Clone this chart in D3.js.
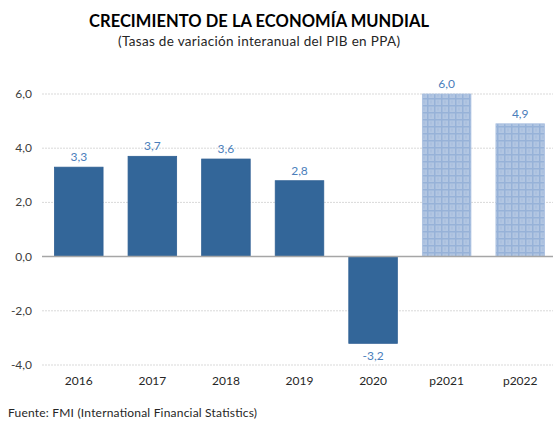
<!DOCTYPE html>
<html>
<head>
<meta charset="utf-8">
<script src="https://cdn.jsdelivr.net/npm/d3@7"></script>
<style>
  body { margin: 0; background: #fff; }
  text { font-family: Lato, "Open Sans", sans-serif; }
</style>
</head>
<body>
<div id="chart"></div>
<script>
'use strict'

// data
const years = ['2016', '2017', '2018', '2019', '2020', 'p2021', 'p2022']
const growth = [3.3, 3.7, 3.6, 2.8, -3.2, 6.0, 4.9]
const projected = [false, false, false, false, false, true, true]
const yTicks = [-4, -2, 0, 2, 4, 6]

const svgWidth = 555, svgHeight = 421
const margin = {left: 42, right: 0, top: 94, bottom: 56}

const svg = d3.select('#chart').append('svg')
    .attr('width', svgWidth)
    .attr('height', svgHeight)

// checked pattern for the projected years
const defs = svg.append('defs')
const pat = defs.append('pattern')
    .attr('id', 'proj')
    .attr('patternUnits', 'userSpaceOnUse')
    .attr('width', 7).attr('height', 7)
pat.append('rect').attr('width', 7).attr('height', 7).attr('fill', '#b2c6e2')
pat.append('rect').attr('x', 0).attr('y', 0).attr('width', 1.5).attr('height', 7).attr('fill', '#97b2d8')
pat.append('rect').attr('x', 0).attr('y', 0).attr('width', 7).attr('height', 1.5).attr('fill', '#97b2d8')
pat.append('rect').attr('x', 3.5).attr('y', 2.5).attr('width', 1).attr('height', 3).attr('fill', '#a4bbdd')

const fmt = v => d3.format('.1f')(v).replace('.', ',').replace('−', '-')

// scales
const x = d3.scaleBand()
    .domain(years)
    .range([margin.left, 557])
    .paddingInner(0.34)
    .paddingOuter(0.17)

const y = d3.scaleLinear()
    .domain([-4, 6])
    .range([365, margin.top])

// gridlines
svg.append('g')
    .selectAll('line')
    .data(yTicks.filter(d => d !== 0))
    .join('line')
    .attr('x1', margin.left).attr('x2', 553)
    .attr('y1', d => y(d)).attr('y2', d => y(d))
    .attr('stroke', '#d9d9d9')
    .attr('stroke-width', 1)
    .attr('stroke-dasharray', '2,1')

// y axis labels
svg.append('g')
    .selectAll('text')
    .data(yTicks)
    .join('text')
    .attr('x', 32)
    .attr('y', d => y(d) + 4)
    .attr('text-anchor', 'end')
    .attr('font-size', 12)
    .attr('fill', '#404040')
    .text(fmt)

// bars
svg.append('g')
    .selectAll('rect')
    .data(years)
    .join('rect')
    .attr('x', d => x(d))
    .attr('width', x.bandwidth())
    .attr('y', (d, i) => y(Math.max(0, growth[i])))
    .attr('height', (d, i) => Math.abs(y(growth[i]) - y(0)))
    .attr('fill', (d, i) => projected[i] ? 'url(#proj)' : '#336699')
    .attr('stroke', (d, i) => projected[i] ? '#a8bedf' : '#2f5f93')
    .attr('stroke-width', 0.8)

// zero line
svg.append('line')
    .attr('x1', margin.left).attr('x2', 553)
    .attr('y1', y(0)).attr('y2', y(0))
    .attr('stroke', '#a6a6a6')
    .attr('stroke-width', 1.5)

// value labels
svg.append('g')
    .selectAll('text')
    .data(years)
    .join('text')
    .attr('x', d => x(d) + x.bandwidth() / 2)
    .attr('y', (d, i) => growth[i] >= 0 ? y(growth[i]) - 6 : y(growth[i]) + 17)
    .attr('text-anchor', 'middle')
    .attr('font-size', 12)
    .attr('fill', '#4a7ebb')
    .text((d, i) => fmt(growth[i]))

// x labels
svg.append('g')
    .selectAll('text')
    .data(years)
    .join('text')
    .attr('x', d => x(d) + x.bandwidth() / 2)
    .attr('y', 385)
    .attr('text-anchor', 'middle')
    .attr('font-size', 12)
    .attr('fill', '#262626')
    .text(d => d)

// titles
svg.append('text')
    .attr('x', 259).attr('y', 27)
    .attr('text-anchor', 'middle')
    .attr('font-size', 16.5)
    .attr('font-weight', 'bold')
    .attr('fill', '#000')
    .attr('textLength', 340)
    .text('CRECIMIENTO  DE LA ECONOMÍA MUNDIAL')

svg.append('text')
    .attr('x', 259).attr('y', 46)
    .attr('text-anchor', 'middle')
    .attr('font-size', 13.5)
    .attr('fill', '#262626')
    .attr('textLength', 282)
    .text('(Tasas de variación interanual del PIB en PPA)')

// source
svg.append('text')
    .attr('x', 8).attr('y', 417)
    .attr('font-size', 12)
    .attr('fill', '#262626')
    .attr('textLength', 249)
    .text('Fuente: FMI (International Financial Statistics)')
</script>
</body>
</html>
